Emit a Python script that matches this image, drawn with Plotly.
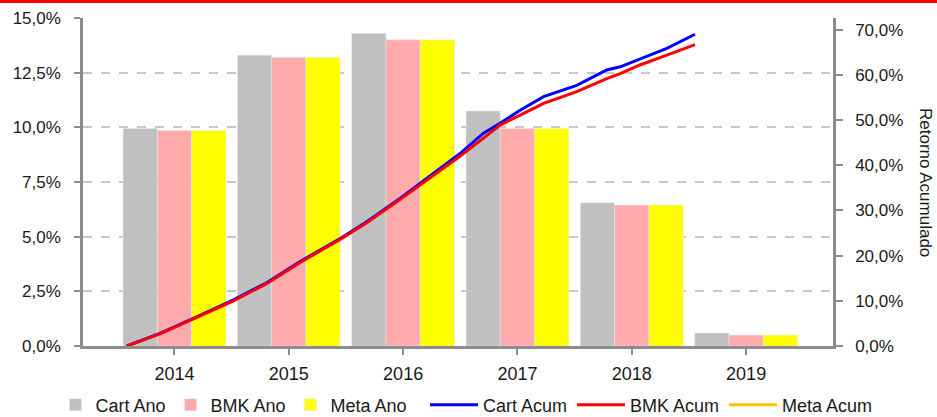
import plotly.graph_objects as go

# ---- data ----
years = ["2014", "2015", "2016", "2017", "2018", "2019"]
cart_ano = [9.95, 13.3, 14.3, 10.75, 6.55, 0.6]
bmk_ano = [9.85, 13.2, 14.0, 9.95, 6.45, 0.5]
meta_ano = [9.85, 13.2, 14.0, 9.95, 6.45, 0.5]

acum_dates = ["2014-01-01", "2014-04-17", "2014-08-02", "2014-12-08", "2015-03-24",
              "2015-07-09", "2015-11-14", "2016-02-07", "2016-05-24", "2016-09-07",
              "2016-12-01", "2017-02-14", "2017-04-08", "2017-06-11", "2017-08-25",
              "2017-12-09", "2018-03-15", "2018-04-27", "2018-06-29", "2018-09-23",
              "2018-12-22"]
cart_acum = [0.0, 2.8, 6.1, 10.2, 14.0, 18.7, 23.8, 27.5, 32.7, 38.2, 42.6,
             47.1, 49.3, 52.2, 55.2, 57.7, 61.1, 61.8, 63.6, 65.9, 69.0]
bmk_acum = [0.0, 2.7, 6.0, 10.0, 13.8, 18.5, 23.6, 27.3, 32.5, 37.8, 42.0,
            46.0, 48.9, 51.1, 53.7, 56.3, 59.2, 60.3, 62.2, 64.4, 66.7]

FONT = "Liberation Sans, Arial, sans-serif"
AXIS_GRAY = "#8c8c8c"
TXT = "#1a1a1a"

fig = go.Figure()
fig.add_trace(go.Bar(x=years, y=cart_ano, name="Cart Ano", marker_color="#c0c0c0"))
fig.add_trace(go.Bar(x=years, y=bmk_ano, name="BMK Ano", marker_color="#ffabab"))
fig.add_trace(go.Bar(x=years, y=meta_ano, name="Meta Ano", marker_color="#ffff00"))
fig.add_trace(go.Scatter(x=acum_dates, y=cart_acum, name="Cart Acum", mode="lines",
                         line=dict(color="#0000ff", width=3), xaxis="x2", yaxis="y2",
                         legend="legend2"))
fig.add_trace(go.Scatter(x=acum_dates, y=bmk_acum, name="BMK Acum", mode="lines",
                         line=dict(color="#ff0000", width=3), xaxis="x2", yaxis="y2",
                         legend="legend2"))
fig.add_trace(go.Scatter(x=[None], y=[None], name="Meta Acum", mode="lines",
                         line=dict(color="#ffc000", width=3), xaxis="x2", yaxis="y2",
                         legend="legend2"))

LEG_Y = -0.18
fig.update_layout(
    width=937, height=417,
    margin=dict(l=83, r=104, t=18, b=71, autoexpand=False),
    paper_bgcolor="white", plot_bgcolor="white",
    font=dict(family=FONT, size=17, color=TXT),
    separators=",.",
    barmode="group", bargap=0.1, bargroupgap=0,
    showlegend=True,
    legend=dict(orientation="h", x=-0.0367, xanchor="left", y=LEG_Y, yanchor="middle",
                font=dict(size=18), bgcolor="rgba(0,0,0,0)", itemwidth=30),
    legend2=dict(orientation="h", x=0.456, xanchor="left", y=LEG_Y, yanchor="middle",
                 font=dict(size=18), bgcolor="rgba(0,0,0,0)", itemwidth=48),
    xaxis=dict(type="category", range=[-0.8, 5.76], showline=True, linecolor=AXIS_GRAY,
               linewidth=2.5, ticks="outside", ticklen=6, tickcolor=AXIS_GRAY, tickwidth=2,
               showgrid=False, zeroline=False, ticklabelstandoff=4, automargin=False,
               tickfont=dict(size=18)),
    xaxis2=dict(type="date", overlaying="x", range=["2013-08-14", "2020-03-07"],
                visible=False),
    yaxis=dict(range=[0, 15], dtick=2.5, tickformat=".1f", ticksuffix="%",
               showline=True, linecolor=AXIS_GRAY, linewidth=2.5, ticks="outside",
               ticklen=6, tickcolor=AXIS_GRAY, tickwidth=2, showgrid=True,
               gridcolor="#c8c8c8", griddash="dash", gridwidth=1.5, zeroline=False,
               ticklabelstandoff=10, automargin=False),
    yaxis2=dict(range=[0, 72.6], dtick=10, tickformat=".1f", ticksuffix="%",
                overlaying="y", side="right", showline=True, linecolor=AXIS_GRAY,
                linewidth=2.5, ticks="outside", ticklen=7, tickcolor=AXIS_GRAY,
                tickwidth=2, showgrid=False, zeroline=False, ticklabelstandoff=9,
                automargin=False),
    annotations=[dict(text="Retorno Acumulado", xref="paper", yref="paper", x=1, y=0.5,
                      xanchor="center", yanchor="middle", xshift=93, textangle=90,
                      showarrow=False, font=dict(size=17, family=FONT, color=TXT))],
    shapes=[dict(type="line", xref="paper", yref="paper", x0=-0.12, x1=1.15,
                 y0=1.0503, y1=1.0503, line=dict(color="#ff0000", width=3))],
)

fig.write_html("out.html", config={"displayModeBar": False},
               post_script="document.body.style.margin='0';")
